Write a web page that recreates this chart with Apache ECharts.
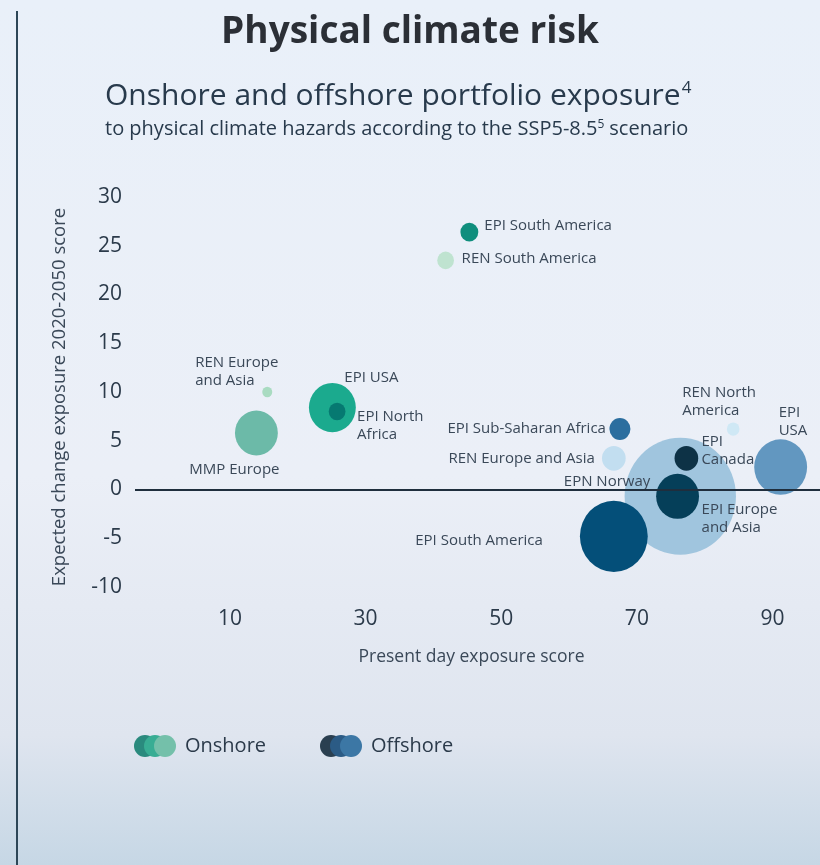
<!DOCTYPE html>
<html>
<head>
<meta charset="utf-8">
<title>Physical climate risk</title>
<script src="https://cdn.jsdelivr.net/npm/echarts@6/dist/echarts.min.js"></script>
<style>
  html, body { margin: 0; padding: 0; }
  #chart { width: 820px; height: 865px; }
</style>
</head>
<body>
<div id="chart"></div>
<script>
// Onshore portfolio: present-day exposure (x), expected change 2020-2050 (y), portfolio weight (bubble area)
const onshoreNames  = ['EPI South America', 'REN South America', 'REN Europe\nand Asia', 'MMP Europe', 'EPI USA', 'EPI North\nAfrica'];
const onshoreX      = [45.3, 41.8, 15.5, 13.9, 25.1, 25.8];
const onshoreY      = [26.4, 23.5, 10.0, 5.8, 8.4, 8.0];
const onshoreWeight = [8, 7, 2.5, 46, 55, 7];

// Offshore portfolio (drawn back to front)
const offshoreNames  = ['EPN Norway', 'EPI Europe\nand Asia', 'EPI\nCanada', 'EPI South America', 'EPI Sub-Saharan Africa', 'REN Europe and Asia', 'REN North\nAmerica', 'EPI\nUSA'];
const offshoreX      = [76.4, 76.0, 77.3, 66.6, 67.5, 66.6, 84.2, 91.2];
const offshoreY      = [-0.7, -0.7, 3.2, -4.8, 6.2, 3.2, 6.2, 2.3];
const offshoreWeight = [310, 46, 14, 115, 11, 14, 4, 70];

// Axis ticks
const xTicks = [10, 30, 50, 70, 90];
const yTicks = [-10, -5, 0, 5, 10, 15, 20, 25, 30];

// Bubble colours
const onshoreColors  = ['#0f8e7d', '#bfe3d0', '#a9dbc1', '#6cbaa8', '#1baa8e', '#067971'];
const offshoreColors = ['#a0c5de', '#053f59', '#0d3246', '#044f79', '#2b6e9f', '#c2def0', '#cfe8f5', '#6297c0'];

// Label placement relative to each bubble centre: [dx, dy, align]
const onshoreLabelPos = [[15, -6, 'left'], [16, -2, 'left'], [-72, -20, 'left'], [-22, 37, 'center'], [12, -30, 'left'], [20, 14, 'left']];
const offshoreLabelPos = [[-30, -15, 'right'], [24, 22, 'left'], [15, -8, 'left'], [-71, 4, 'right'], [-14, 0, 'right'], [-19, 0, 'right'], [-51, -27, 'left'], [-2, -45, 'left']];

const textColor = '#3a4858';
const fontFamily = '"Open Sans", "Noto Sans", sans-serif';

function buildPoints(names, xs, ys, ws, colors, labelPos) {
  return names.map((n, i) => ({
    name: n,
    value: [xs[i], ys[i], ws[i]],
    itemStyle: { color: colors[i], opacity: 1 },
    label: {
      show: true,
      formatter: '{b}',
      position: 'inside',
      offset: [labelPos[i][0], labelPos[i][1]],
      align: labelPos[i][2],
      verticalAlign: 'middle',
      color: textColor,
      fontSize: 15,
      lineHeight: 18,
      fontFamily: fontFamily
    }
  }));
}

// Bubble diameter grows with the square root of the portfolio weight
function bubbleSize(v) {
  const d = 2 * Math.sqrt(v[2] * 10);
  return [d, d * 1.05];
}

const chart = echarts.init(document.getElementById('chart'), null, { renderer: 'canvas' });

const legendY = 746;
function legendDots(x0, cols) {
  return cols.map((c, i) => ({
    type: 'circle',
    shape: { cx: x0 + i * 10, cy: legendY, r: 11 },
    style: { fill: c },
    z: 10 + i
  }));
}

chart.setOption({
  backgroundColor: {
    type: 'linear', x: 0, y: 0, x2: 0, y2: 1,
    colorStops: [
      { offset: 0, color: '#e9f0f9' },
      { offset: 0.55, color: '#ebeff7' },
      { offset: 0.85, color: '#dfe5ef' },
      { offset: 1, color: '#c6d7e5' }
    ]
  },
  animation: false,
  textStyle: { fontFamily: fontFamily },
  title: [
    {
      text: 'Physical climate risk',
      left: 'center',
      top: 9,
      textStyle: { fontSize: 37, fontWeight: 'bold', color: '#2b2f36', fontFamily: fontFamily }
    },
    {
      text: 'Onshore and offshore portfolio exposure{sup|4}',
      left: 100,
      top: 75,
      textStyle: {
        fontSize: 30, fontWeight: 'normal', color: '#283a4c', fontFamily: fontFamily,
        rich: { sup: { fontSize: 17, verticalAlign: 'top', color: '#283a4c', padding: [0, 0, 15, 1], fontFamily: fontFamily } }
      }
    },
    {
      text: 'to physical climate hazards according to the SSP5-8.5{sup|5}scenario',
      left: 100,
      top: 114,
      textStyle: {
        fontSize: 20, fontWeight: 500, color: '#283a4c', fontFamily: fontFamily,
        rich: { sup: { fontSize: 12, color: '#283a4c', padding: [0, 5, 9, 0], fontFamily: fontFamily, fontWeight: 500 } }
      }
    }
  ],
  grid: { left: 135, right: 0, top: 197, bottom: 278 },
  xAxis: {
    type: 'value',
    min: -4,
    max: 97,
    name: 'Present day exposure score',
    nameLocation: 'middle',
    nameGap: 61,
    nameTextStyle: { fontSize: 17.5, color: textColor, fontFamily: fontFamily, padding: [0, 0, 0, -12] },
    axisLine: { show: false },
    axisTick: { show: false },
    splitLine: { show: false },
    axisLabel: {
      customValues: xTicks,
      margin: 22,
      fontSize: 21,
      color: '#2b3a4a',
      fontFamily: fontFamily
    }
  },
  yAxis: {
    type: 'value',
    min: -10,
    max: 30,
    interval: 5,
    name: 'Expected change exposure 2020-2050 score',
    nameLocation: 'middle',
    nameGap: 66,
    nameTextStyle: { fontSize: 18.5, color: textColor, fontFamily: fontFamily, padding: [0, 10, 0, 0] },
    axisLine: { show: false },
    axisTick: { show: false },
    splitLine: { show: false },
    axisLabel: {
      customValues: yTicks,
      margin: 13,
      fontSize: 21,
      color: '#2b3a4a',
      fontFamily: fontFamily
    }
  },
  series: [
    {
      // zero baseline, kept beneath the bubbles
      type: 'line',
      data: [],
      z: 1,
      silent: true,
      markLine: {
        silent: true,
        symbol: 'none',
        label: { show: false },
        lineStyle: { color: '#1f2e3d', width: 2, type: 'solid' },
        data: [{ yAxis: 0 }]
      }
    },
    {
      name: 'Onshore',
      type: 'scatter',
      z: 3,
      symbolSize: bubbleSize,
      data: buildPoints(onshoreNames, onshoreX, onshoreY, onshoreWeight, onshoreColors, onshoreLabelPos)
    },
    {
      name: 'Offshore',
      type: 'scatter',
      z: 3,
      symbolSize: bubbleSize,
      data: buildPoints(offshoreNames, offshoreX, offshoreY, offshoreWeight, offshoreColors, offshoreLabelPos)
    }
  ],
  graphic: [
    {
      type: 'line',
      shape: { x1: 17, y1: 11, x2: 17, y2: 865 },
      style: { stroke: '#2d4657', lineWidth: 2 }
    },
    ...legendDots(145, ['#2a8a7e', '#38ad94', '#74c0aa']),
    {
      type: 'text',
      left: 185, top: 736,
      style: { text: 'Onshore', fontSize: 20, fill: '#2b3a4a', fontFamily: fontFamily }
    },
    ...legendDots(331, ['#2a3f50', '#2b5b85', '#3c77a5']),
    {
      type: 'text',
      left: 371, top: 736,
      style: { text: 'Offshore', fontSize: 20, fill: '#2b3a4a', fontFamily: fontFamily }
    }
  ]
});
</script>
</body>
</html>
